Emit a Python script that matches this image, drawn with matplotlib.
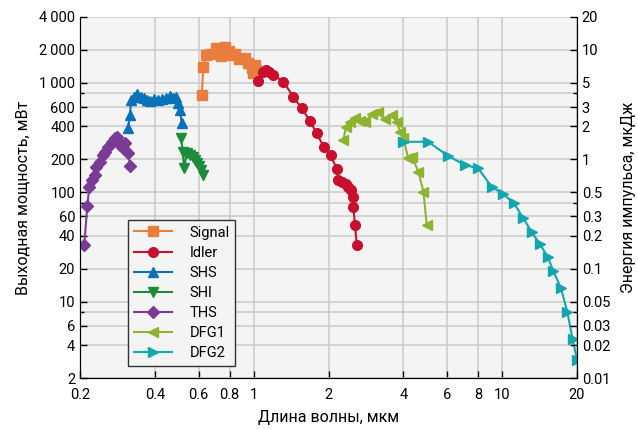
import matplotlib
matplotlib.use("Agg")
import matplotlib.pyplot as plt
from matplotlib.ticker import FixedLocator, NullFormatter, NullLocator

plt.rcParams['font.family'] = ['Roboto', 'DejaVu Sans']

# wavelength (um) and output power (mW)
signal_x = [0.618, 0.627, 0.643, 0.667, 0.705, 0.736, 0.767, 0.796, 0.815, 0.841,
            0.875, 0.923, 0.951, 0.982, 0.996, 1.012, 1.021]
signal_y = [772, 1404, 1796, 1823, 2069, 1759, 2112, 1966, 1796, 1834,
            1640, 1675, 1508, 1374, 1237, 1455, 1309]

idler_x = [1.038, 1.087, 1.121, 1.156, 1.199, 1.316, 1.443, 1.561, 1.685, 1.793,
           1.918, 2.041, 2.163, 2.19, 2.26, 2.352, 2.403, 2.457, 2.503, 2.517, 2.557, 2.598]
idler_y = [1046, 1264, 1310, 1264, 1179, 1024, 747, 585, 448, 345,
           257, 217, 162, 129, 124, 120, 112, 104, 91, 73, 50, 33]

shs_x = [0.312, 0.318, 0.321, 0.330, 0.339, 0.352, 0.362, 0.372, 0.383, 0.397,
         0.412, 0.428, 0.444, 0.461, 0.473, 0.486, 0.495, 0.505, 0.513]
shs_y = [384, 508, 696, 741, 790, 741, 726, 696, 681, 711,
         696, 711, 726, 758, 726, 741, 653, 564, 432]

shi_x = [0.510, 0.519, 0.524, 0.538, 0.552, 0.570, 0.580, 0.590, 0.601, 0.613, 0.624]
shi_y = [313, 233, 166, 228, 218, 210, 197, 185, 173, 159, 143]

ths_x = [0.208, 0.214, 0.218, 0.223, 0.230, 0.233, 0.241, 0.247, 0.252, 0.260,
         0.268, 0.276, 0.283, 0.290, 0.297, 0.303, 0.313, 0.318]
ths_y = [33, 75, 112, 129, 143, 171, 190, 218, 234, 260,
         289, 311, 321, 270, 252, 280, 226, 173]

dfg1_x = [2.294, 2.352, 2.441, 2.557, 2.678, 2.805, 2.984, 3.172, 3.376, 3.593,
          3.763, 3.88, 4.0, 4.19, 4.34, 4.60, 4.82, 4.97]
dfg1_y = [300, 397, 438, 473, 450, 441, 518, 544, 464, 508,
          441, 357, 311, 204, 210, 154, 101, 50]

dfg2_x = [4.0, 5.04, 6.07, 7.09, 8.01, 9.07, 10.1, 11.16, 12.16, 13.15,
          14.19, 15.25, 16.05, 17.25, 18.28, 19.21, 19.99]
dfg2_y = [289, 289, 214, 177, 165, 112, 96, 79, 58, 43,
          33.5, 25.6, 19.1, 13.2, 8.05, 4.5, 2.95]

x_ticks = [0.2, 0.4, 0.6, 0.8, 1, 2, 4, 6, 8, 10, 20]
x_labels = ['0.2', '0.4', '0.6', '0.8', '1', '2', '4', '6', '8', '10', '20']
y_ticks = [2, 4, 6, 10, 20, 40, 60, 100, 200, 400, 600, 1000, 2000, 4000]
y_labels = ['2', '4', '6', '10', '20', '40', '60', '100', '200', '400', '600',
            '1\u2009000', '2\u2009000', '4\u2009000']
y_extra = [8, 80, 800]
e_ticks = [0.01, 0.02, 0.03, 0.05, 0.1, 0.2, 0.3, 0.5, 1, 2, 3, 5, 10, 20]
e_labels = ['0.01', '0.02', '0.03', '0.05', '0.1', '0.2', '0.3', '0.5',
            '1', '2', '3', '5', '10', '20']

series = [
    ('Signal', signal_x, signal_y, '#E87D3E', 's'),
    ('Idler', idler_x, idler_y, '#C8102E', 'o'),
    ('SHS', shs_x, shs_y, '#0A72B8', '^'),
    ('SHI', shi_x, shi_y, '#1B8C3A', 'v'),
    ('THS', ths_x, ths_y, '#7A3B96', 'D'),
    ('DFG1', dfg1_x, dfg1_y, '#8DB32F', '<'),
    ('DFG2', dfg2_x, dfg2_y, '#13A6AE', '>'),
]

fig = plt.figure(figsize=(6.38, 4.30), dpi=100)
ax = fig.add_axes([0.1254, 0.1209, 0.7790, 0.8396])
ax.set_facecolor('#F4F4F4')

for name, xs, ys, col, mk in series:
    ms = 6 if mk == 'D' else 7
    ax.plot(xs, ys, color=col, marker=mk, markersize=ms, linewidth=1.5, label=name)

ax.set_xscale('log')
ax.set_yscale('log')
ax.set_xlim(0.2, 20)
ax.set_ylim(2, 4000)

ax.xaxis.set_major_locator(FixedLocator(x_ticks))
ax.set_xticklabels(x_labels)
ax.xaxis.set_minor_locator(NullLocator())
ax.yaxis.set_major_locator(FixedLocator(y_ticks))
ax.set_yticklabels(y_labels)
ax.yaxis.set_minor_locator(FixedLocator(y_extra))
ax.yaxis.set_minor_formatter(NullFormatter())

ax.grid(True, which='both', color='#C9C9C9', linewidth=1.1)
ax.set_axisbelow(True)
ax.tick_params(which='both', direction='in', labelsize=10.5, length=5, width=1)
ax.tick_params(which='minor', length=3)
ax.tick_params(axis='x', pad=7)
ax.spines['top'].set_visible(False)

ax.set_xlabel('Длина волны, мкм', fontsize=11.5, labelpad=6)
ax.set_ylabel('Выходная мощность, мВт', fontsize=11.5, labelpad=6)

ax2 = ax.twinx()
ax2.set_yscale('log')
ax2.set_ylim(0.01, 20)
ax2.yaxis.set_major_locator(FixedLocator(e_ticks))
ax2.set_yticklabels(e_labels)
ax2.yaxis.set_minor_locator(FixedLocator([0.04, 0.4, 4]))
ax2.yaxis.set_minor_formatter(NullFormatter())
ax2.tick_params(which='both', direction='in', labelsize=10.5, length=5, width=1)
ax2.tick_params(which='minor', length=3)
ax2.spines['top'].set_visible(False)
ax2.set_ylabel('Энергия импульса, мкДж', fontsize=11.5, labelpad=8)

leg = ax.legend(loc='lower left', bbox_to_anchor=(0.097, 0.033), fontsize=10.5,
                handlelength=2.6, borderaxespad=0, fancybox=False, framealpha=1,
                labelspacing=0.42, handletextpad=1.2)
leg.get_frame().set_edgecolor('#333333')
leg.get_frame().set_facecolor('#F4F4F4')

fig.savefig('out.png', dpi=100)
